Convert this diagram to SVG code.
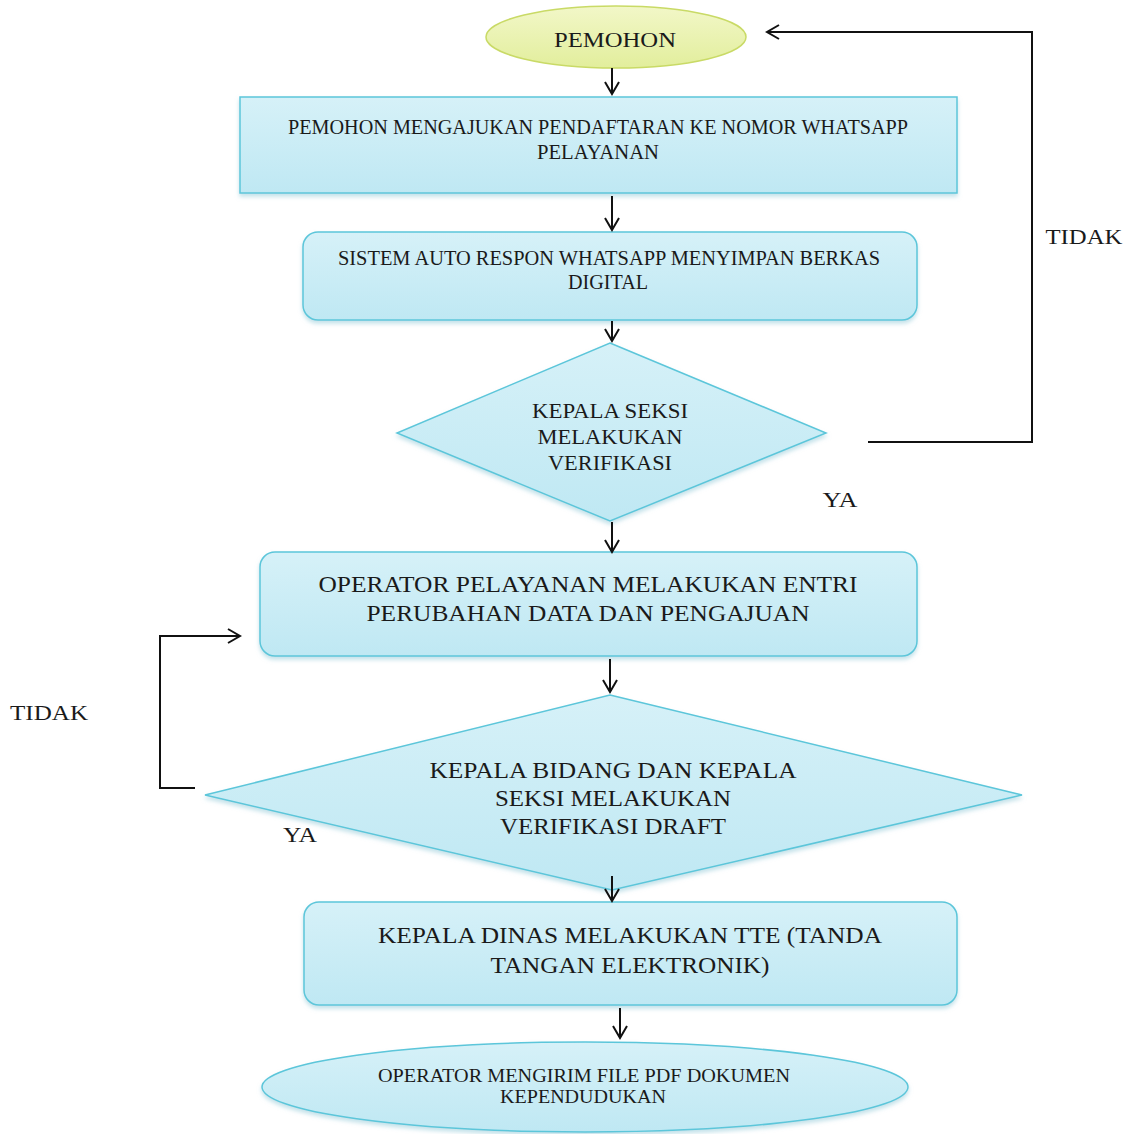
<svg xmlns="http://www.w3.org/2000/svg" width="1130" height="1134" viewBox="0 0 1130 1134">
<defs>
<linearGradient id="cyan" x1="0" y1="0" x2="0" y2="1">
<stop offset="0" stop-color="#d6f1f8"/>
<stop offset="1" stop-color="#bfe8f3"/>
</linearGradient>
<linearGradient id="yel" x1="0" y1="0" x2="0" y2="1">
<stop offset="0" stop-color="#f2f7c8"/>
<stop offset="1" stop-color="#e2ee9c"/>
</linearGradient>
<filter id="sh" x="-5%" y="-10%" width="110%" height="125%">
<feDropShadow dx="0" dy="3" stdDeviation="2" flood-color="#9ccfdc" flood-opacity="0.6"/>
</filter>
<marker id="ah" viewBox="0 0 16 16" refX="14" refY="8" markerWidth="16" markerHeight="16" markerUnits="userSpaceOnUse" orient="auto">
<polyline points="2,1 14,8 2,15" fill="none" stroke="#111" stroke-width="2"/>
</marker>
</defs>
<style>
.box{fill:url(#cyan);stroke:#5cc6da;stroke-width:1.5;filter:url(#sh)}
.t{font-family:"Liberation Serif","Times New Roman",serif;fill:#1a1a1a;text-anchor:middle}
.c{fill:none;stroke:#111;stroke-width:2}
</style>
<rect width="1130" height="1134" fill="#ffffff"/>

<g id="pemohon">
<ellipse cx="616" cy="37" rx="130" ry="31" fill="url(#yel)" stroke="#c9da66" stroke-width="1.5"/>
<text class="t" x="615" y="47" font-size="22" textLength="122" lengthAdjust="spacingAndGlyphs">PEMOHON</text>
</g>

<g id="daftar">
<rect class="box" x="240" y="97" width="717" height="96"/>
<text class="t" x="598" y="134" font-size="20" textLength="620" lengthAdjust="spacingAndGlyphs">PEMOHON MENGAJUKAN PENDAFTARAN KE NOMOR WHATSAPP</text>
<text class="t" x="598" y="159" font-size="20" textLength="122" lengthAdjust="spacingAndGlyphs">PELAYANAN</text>
</g>

<g id="sistem">
<rect class="box" x="303" y="232" width="614" height="88" rx="15"/>
<text class="t" x="609" y="265" font-size="20" textLength="542" lengthAdjust="spacingAndGlyphs">SISTEM AUTO RESPON WHATSAPP MENYIMPAN BERKAS</text>
<text class="t" x="608" y="289" font-size="20" textLength="80" lengthAdjust="spacingAndGlyphs">DIGITAL</text>
</g>

<g id="verif1">
<polygon class="box" points="610,343 826,433 610,521 397,433"/>
<text class="t" x="610" y="418" font-size="21" textLength="156" lengthAdjust="spacingAndGlyphs">KEPALA SEKSI</text>
<text class="t" x="610" y="444" font-size="21" textLength="145" lengthAdjust="spacingAndGlyphs">MELAKUKAN</text>
<text class="t" x="610" y="470" font-size="21" textLength="124" lengthAdjust="spacingAndGlyphs">VERIFIKASI</text>
</g>

<g id="operator">
<rect class="box" x="260" y="552" width="657" height="104" rx="15"/>
<text class="t" x="588" y="592" font-size="24" textLength="539" lengthAdjust="spacingAndGlyphs">OPERATOR PELAYANAN MELAKUKAN ENTRI</text>
<text class="t" x="588" y="621" font-size="24" textLength="443" lengthAdjust="spacingAndGlyphs">PERUBAHAN DATA DAN PENGAJUAN</text>
</g>

<g id="verif2">
<polygon class="box" points="610,695 1022,795 612,890 205,795"/>
<text class="t" x="613" y="778" font-size="24" textLength="367" lengthAdjust="spacingAndGlyphs">KEPALA BIDANG DAN KEPALA</text>
<text class="t" x="613" y="806" font-size="24" textLength="236" lengthAdjust="spacingAndGlyphs">SEKSI MELAKUKAN</text>
<text class="t" x="613" y="834" font-size="24" textLength="226" lengthAdjust="spacingAndGlyphs">VERIFIKASI DRAFT</text>
</g>

<g id="tte">
<rect class="box" x="304" y="902" width="653" height="103" rx="15"/>
<text class="t" x="630" y="943" font-size="24" textLength="504" lengthAdjust="spacingAndGlyphs">KEPALA DINAS MELAKUKAN TTE (TANDA</text>
<text class="t" x="630" y="973" font-size="24" textLength="279" lengthAdjust="spacingAndGlyphs">TANGAN ELEKTRONIK)</text>
</g>

<g id="kirim">
<ellipse class="box" cx="585" cy="1087" rx="323" ry="45"/>
<text class="t" x="584" y="1082" font-size="19" textLength="412" lengthAdjust="spacingAndGlyphs">OPERATOR MENGIRIM FILE PDF DOKUMEN</text>
<text class="t" x="583" y="1103" font-size="19" textLength="166" lengthAdjust="spacingAndGlyphs">KEPENDUDUKAN</text>
</g>

<g id="connectors">
<line class="c" x1="612" y1="68" x2="612" y2="94" marker-end="url(#ah)"/>
<line class="c" x1="612" y1="196" x2="612" y2="230" marker-end="url(#ah)"/>
<line class="c" x1="612" y1="321" x2="612" y2="341" marker-end="url(#ah)"/>
<line class="c" x1="612" y1="522" x2="612" y2="552" marker-end="url(#ah)"/>
<line class="c" x1="610" y1="659" x2="610" y2="692" marker-end="url(#ah)"/>
<line class="c" x1="612" y1="876" x2="612" y2="901" marker-end="url(#ah)"/>
<line class="c" x1="620" y1="1008" x2="620" y2="1038" marker-end="url(#ah)"/>
<polyline class="c" points="868,442 1032,442 1032,32 767,32" marker-end="url(#ah)"/>
<polyline class="c" points="195,788 160,788 160,636 240,636" marker-end="url(#ah)"/>
<text class="t" x="1084" y="244" font-size="22" textLength="77" lengthAdjust="spacingAndGlyphs">TIDAK</text>
<text class="t" x="840" y="507" font-size="21" textLength="35" lengthAdjust="spacingAndGlyphs">YA</text>
<text class="t" x="49" y="720" font-size="22" textLength="78" lengthAdjust="spacingAndGlyphs">TIDAK</text>
<text class="t" x="300" y="842" font-size="21" textLength="34" lengthAdjust="spacingAndGlyphs">YA</text>
</g>
</svg>
